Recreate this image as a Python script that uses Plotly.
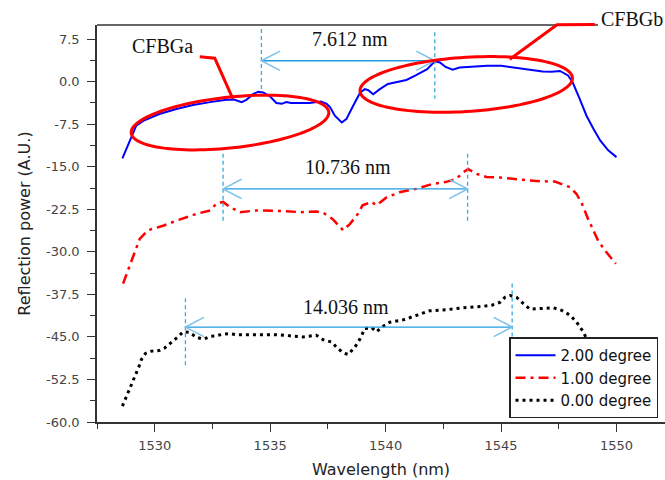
import numpy as np
import plotly.graph_objects as go

# ---------------- data ----------------
series_names = ["2.00 degree", "1.00 degree", "0.00 degree"]

wl_2deg = [1528.6, 1528.99, 1529.2, 1529.5, 1530.2, 1530.94, 1531.66, 1532.4, 1533.1, 1533.47,
           1533.76, 1533.97, 1534.26, 1534.48, 1534.7, 1535.0, 1535.27, 1535.5, 1535.7, 1535.9,
           1536.7, 1537.2, 1537.45, 1537.6, 1537.8, 1538.1, 1538.3, 1538.6, 1538.9, 1539.1,
           1539.25, 1539.46, 1539.75, 1540.1, 1540.5, 1540.9, 1541.3, 1541.8, 1542.13, 1542.35,
           1542.6, 1542.9, 1543.2, 1543.8, 1544.4, 1545.0, 1545.4, 1546.25, 1546.8, 1547.2,
           1547.55, 1547.9, 1548.1, 1548.4, 1548.7, 1549.0, 1549.3, 1549.64, 1550.0]
pw_2deg = [-13.5, -9.8, -7.75, -6.9, -5.7, -4.8, -4.1, -3.6, -3.2, -3.2,
           -3.6, -3.2, -2.2, -1.76, -1.9, -2.6, -3.75, -3.9, -3.6, -3.75,
           -3.75, -3.5, -3.9, -4.5, -6.0, -7.2, -6.6, -4.2, -1.9, -1.3,
           -1.5, -2.2, -1.3, -0.4, -0.1, 0.3, 1.1, 2.2, 3.6, 3.4,
           2.6, 2.1, 2.5, 2.7, 2.8, 2.8, 2.6, 2.1, 1.8, 1.75,
           1.9, 1.1, -0.1, -3.0, -6.0, -8.3, -10.4, -12.1, -13.3]

wl_1deg = [1528.63, 1529.0, 1529.35, 1529.7, 1530.36, 1530.94, 1531.8, 1532.4, 1532.67, 1532.96,
           1533.25, 1533.7, 1534.4, 1535.56, 1536.3, 1537.0, 1537.3, 1537.7, 1538.16, 1538.45,
           1538.8, 1539.0, 1539.4, 1539.6, 1540.04, 1540.6, 1541.3, 1542.06, 1542.6, 1543.07,
           1543.36, 1543.57, 1543.94, 1544.37, 1544.95, 1545.96, 1546.7, 1547.33, 1547.6, 1547.98,
           1548.27, 1548.5, 1548.77, 1549.0, 1549.2, 1549.5, 1549.97]
pw_1deg = [-35.6, -31.5, -27.7, -26.2, -25.4, -24.5, -23.3, -22.7, -21.5, -21.2,
           -22.1, -23.0, -22.7, -22.8, -23.0, -22.9, -23.1, -24.2, -26.2, -25.1,
           -23.3, -21.8, -21.2, -21.8, -20.4, -19.5, -18.9, -18.0, -17.7, -17.1,
           -16.0, -15.4, -16.25, -16.8, -16.9, -17.3, -17.55, -17.6, -18.0, -18.6,
           -19.8, -21.5, -24.2, -26.2, -28.0, -29.75, -32.1]

wl_0deg = [1528.6, 1528.74, 1528.95, 1529.1, 1529.2, 1529.32, 1529.42, 1529.6, 1529.86, 1530.19,
           1530.43, 1530.72, 1531.0, 1531.23, 1531.5, 1531.83, 1532.12, 1532.4, 1532.67, 1532.96,
           1533.25, 1533.54, 1534.1, 1534.7, 1535.27, 1535.85, 1536.4, 1537.0, 1537.3, 1537.66,
           1537.87, 1538.16, 1538.38, 1538.67, 1538.9, 1539.1, 1539.4, 1539.6, 1539.9, 1540.18,
           1540.76, 1541.34, 1541.9, 1542.64, 1543.5, 1544.22, 1544.6, 1544.95, 1545.17, 1545.4,
           1545.67, 1545.96, 1546.25, 1546.7, 1547.26, 1547.62, 1548.0, 1548.27, 1548.56, 1548.7,
           1548.85, 1549.1, 1549.4]
pw_0deg = [-57.2, -55.9, -53.8, -52.5, -51.5, -50.2, -49.0, -47.9, -47.5, -47.4,
           -46.95, -46.0, -45.0, -44.1, -44.2, -45.1, -45.4, -44.9, -44.8, -44.5,
           -44.4, -44.6, -44.6, -44.5, -44.6, -44.8, -45.0, -44.7, -45.5, -45.9,
           -46.8, -47.8, -48.1, -46.8, -45.3, -43.5, -43.4, -44.1, -43.1, -42.4,
           -42.0, -41.2, -40.4, -40.2, -39.8, -39.6, -39.4, -38.9, -38.0, -37.7,
           -38.0, -39.1, -40.1, -40.0, -39.85, -40.3, -41.2, -42.4, -44.1, -45.3,
           -46.7, -49.5, -52.5]

x_tick_vals = [1530, 1535, 1540, 1545, 1550]
x_tick_text = ["1530", "1535", "1540", "1545", "1550"]
y_tick_vals = [-60, -52.5, -45, -37.5, -30, -22.5, -15, -7.5, 0, 7.5]
y_tick_text = ["-60.0", "-52.5", "-45.0", "-37.5", "-30.0", "-22.5", "-15.0", "-7.5", "0.0", "7.5"]

# bandwidth markers
bw_left = [1534.62, 1532.96, 1531.33]
bw_right = [1542.13, 1543.55, 1545.48]
bw_level = [3.7, -18.9, -43.26]
bw_left_span = [(9.3, -1.6), (-12.7, -24.5), (-38.2, -50.0)]
bw_right_span = [(8.7, -3.0), (-12.7, -24.5), (-35.6, -50.0)]
bw_labels = ["7.612 nm", "10.736 nm", "14.036 nm"]
bw_label_x = [1538.45, 1538.38, 1538.27]
bw_label_y = [7.5, -15.0, -39.7]

# grating callouts
grating_labels = ["CFBGa", "CFBGb"]
grating_label_x = [1530.32, 1549.28]
grating_label_y = [6.25, 11.1]
ellipse_center = [(1533.26, -7.20), (1543.49, -0.48)]
ellipse_semi = [(4.28, 4.5), (4.60, 4.79)]
ellipse_shear = [0.407, 0.239]
callout_a = [(1531.95, 4.4), (1532.6, 4.14), (1533.39, -3.05)]
callout_b = [(1549.06, 10.1), (1547.42, 10.05), (1545.38, 3.96)]

X_RANGE = [1527.5, 1552.1]
Y_RANGE = [-60, 10]


def yp(v):
    return (v - Y_RANGE[0]) / (Y_RANGE[1] - Y_RANGE[0])


# ---------------- figure ----------------
fig = go.Figure()
fig.add_trace(go.Scatter(x=wl_2deg, y=pw_2deg, mode="lines", name=series_names[0],
                         line=dict(color="#0000ff", width=2)))
fig.add_trace(go.Scatter(x=wl_1deg, y=pw_1deg, mode="lines", name=series_names[1],
                         line=dict(color="#ff0000", width=2.5, dash="10px,5px,3px,5px")))
fig.add_trace(go.Scatter(x=wl_0deg, y=pw_0deg, mode="lines", name=series_names[2],
                         line=dict(color="#000000", width=3, dash="3px,4px")))

shapes = []
ann_line = "#1e9be0"
ann_head = "#7cc0ea"
dx, dy = 0.8, 1.7
for i in range(3):
    for xv, span in ((bw_left[i], bw_left_span[i]), (bw_right[i], bw_right_span[i])):
        shapes.append(dict(type="line", xref="x", yref="y", x0=xv, x1=xv, y0=span[0], y1=span[1],
                           line=dict(color="#35aae0", width=1.3, dash="4px,3px")))
    shapes.append(dict(type="line", xref="x", yref="y", x0=bw_left[i], x1=bw_right[i],
                       y0=bw_level[i], y1=bw_level[i], line=dict(color=ann_line, width=1.3)))
    L, R, Y = bw_left[i], bw_right[i], bw_level[i]
    shapes.append(dict(type="path", xref="x", yref="y",
                       path=f"M {L+dx},{Y+dy} L {L},{Y} L {L+dx},{Y-dy}",
                       line=dict(color=ann_head, width=1.5)))
    shapes.append(dict(type="path", xref="x", yref="y",
                       path=f"M {R-dx},{Y+dy} L {R},{Y} L {R-dx},{Y-dy}",
                       line=dict(color=ann_head, width=1.5)))

t = np.linspace(0, 2 * np.pi, 121)
for (cx, cy), (a, b), s in zip(ellipse_center, ellipse_semi, ellipse_shear):
    xs = cx + a * np.cos(t)
    ys = cy + b * np.sin(t) + s * a * np.cos(t)
    p = "M " + " L ".join(f"{x:.4f},{y:.4f}" for x, y in zip(xs, ys)) + " Z"
    shapes.append(dict(type="path", xref="x", yref="y", path=p,
                       line=dict(color="#ff0000", width=3)))

for pts in (callout_a, callout_b):
    p = "M " + " L ".join(f"{x},{yp(y):.5f}" for x, y in pts)
    shapes.append(dict(type="path", xref="x", yref="paper", path=p,
                       line=dict(color="#ff0000", width=3)))

# top frame line (stops at the CFBGb label)
shapes.append(dict(type="line", xref="x", yref="paper", x0=X_RANGE[0], x1=1549.2, y0=1, y1=1,
                   line=dict(color="#333333", width=1.5), layer="below"))

annotations = []
serif = dict(family="Liberation Serif, Times New Roman, serif", size=20, color="#111111")
for i in range(3):
    annotations.append(dict(x=bw_label_x[i], y=bw_label_y[i], xref="x", yref="y",
                            text=bw_labels[i], showarrow=False, font=serif))
annotations.append(dict(x=grating_label_x[0], y=grating_label_y[0], xref="x", yref="y",
                        text=grating_labels[0], showarrow=False, font=serif))
annotations.append(dict(x=grating_label_x[1], y=yp(grating_label_y[1]), xref="x", yref="paper",
                        text=grating_labels[1], showarrow=False, font=serif, xanchor="left",
                        yanchor="middle", bgcolor="white", borderpad=0))

sans = "DejaVu Sans, Arial, sans-serif"
fig.update_layout(
    width=665, height=480,
    margin=dict(l=97, r=0, t=25, b=58),
    paper_bgcolor="white", plot_bgcolor="white",
    shapes=shapes, annotations=annotations,
    legend=dict(x=0.9877, y=0.009, xanchor="right", yanchor="bottom",
                bgcolor="white", bordercolor="#222222", borderwidth=1.5,
                font=dict(family=sans, size=15, color="#111111"),
                itemwidth=40, tracegroupgap=0),
    font=dict(family=sans),
)
fig.update_xaxes(range=X_RANGE, tickmode="array", tickvals=x_tick_vals, ticktext=x_tick_text,
                 showgrid=False, zeroline=False, showline=True, linecolor="#333333", linewidth=1.5,
                 ticks="outside", ticklen=8, tickwidth=1.3, tickcolor="#333333",
                 ticklabelstandoff=3,
                 minor=dict(ticks="outside", ticklen=5, tickwidth=1.3, tickcolor="#333333", dtick=2.5),
                 tickfont=dict(family=sans, size=13, color="#444444"),
                 title=dict(text="Wavelength (nm)", font=dict(family=sans, size=16, color="#222222"),
                            standoff=11))
fig.update_yaxes(range=Y_RANGE, tickmode="array", tickvals=y_tick_vals, ticktext=y_tick_text,
                 showgrid=False, zeroline=False, showline=True, linecolor="#333333", linewidth=1.5,
                 ticks="outside", ticklen=8, tickwidth=1.3, tickcolor="#333333",
                 ticklabelstandoff=5,
                 minor=dict(ticks="outside", ticklen=5, tickwidth=1.3, tickcolor="#333333", dtick=3.75,
                            tick0=0),
                 tickfont=dict(family=sans, size=13, color="#444444"),
                 title=dict(text="Reflection power (A.U.)",
                            font=dict(family=sans, size=16, color="#222222"), standoff=11))

fig.write_html("out.html")
